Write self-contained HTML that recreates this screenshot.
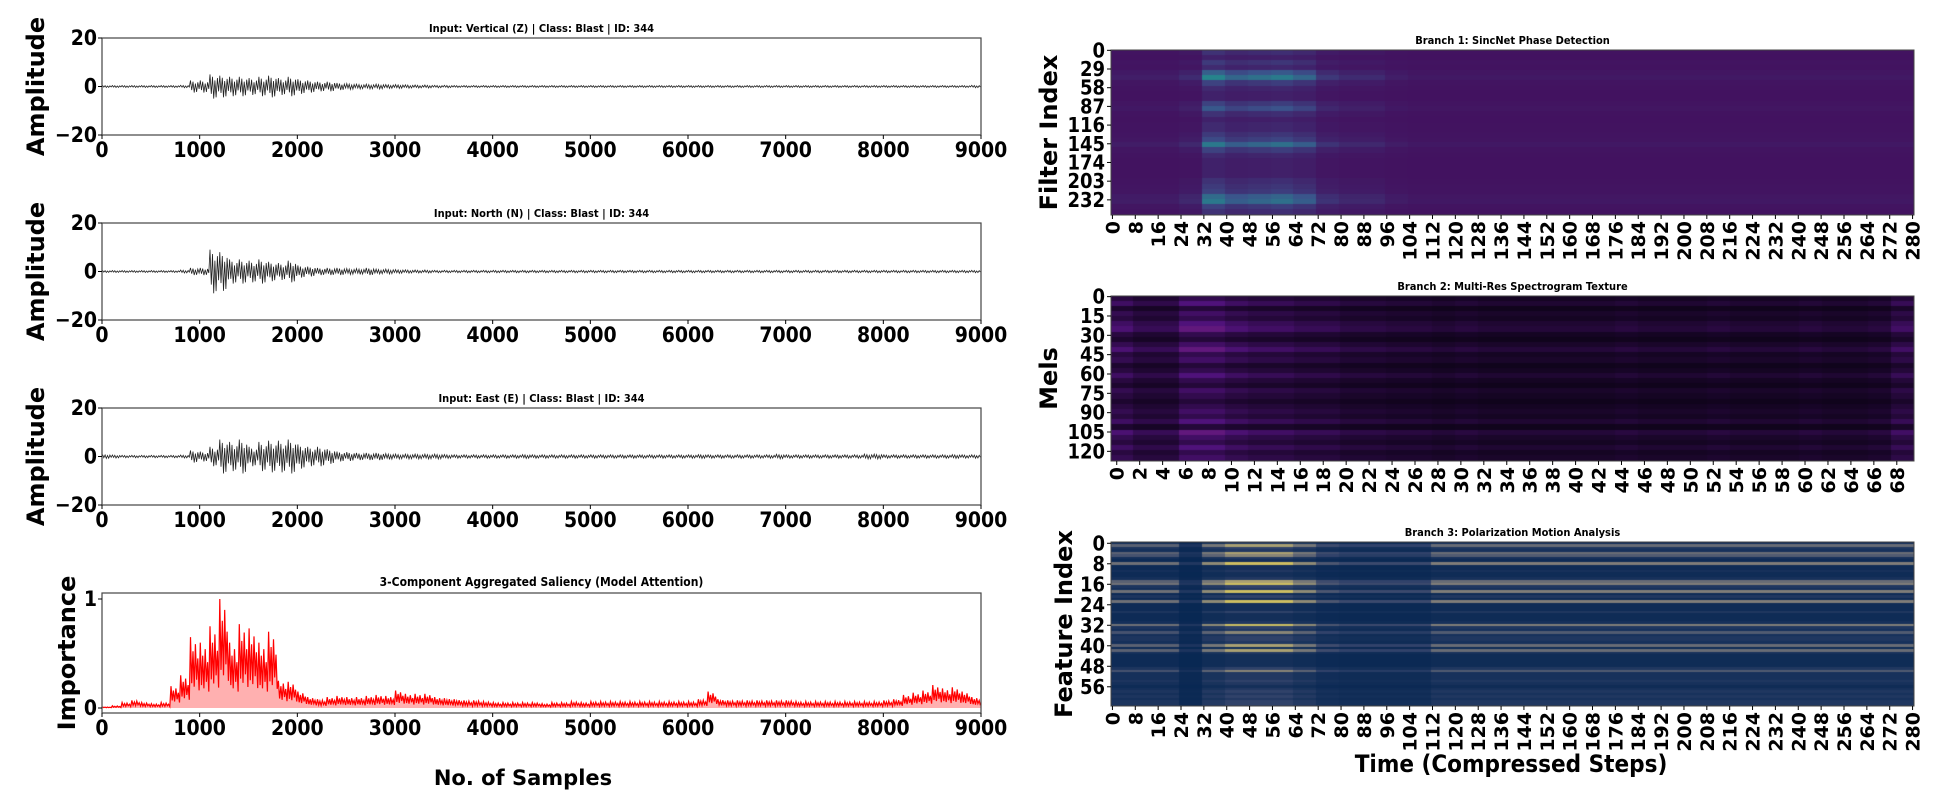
<!DOCTYPE html>
<html><head><meta charset="utf-8">
<style>
html,body{margin:0;padding:0;background:#fff;}
#wrap{position:relative;width:1960px;height:799px;overflow:hidden;}
canvas{position:absolute;}
svg{position:absolute;left:0;top:0;}
text{font-family:"DejaVu Sans","Liberation Sans",sans-serif;font-weight:bold;fill:#000;}
.c{font-family:"DejaVu Sans Condensed","DejaVu Sans","Liberation Sans",sans-serif;}
</style></head>
<body>
<div id="wrap">
<canvas id="h1" style="left:1111px;top:50px" width="803" height="165"></canvas>
<canvas id="h2" style="left:1111px;top:296px" width="803" height="165"></canvas>
<canvas id="h3" style="left:1111px;top:542px" width="803" height="164"></canvas>
<svg id="svg" width="1960" height="799"></svg>
</div>
<script>
// ---- waveform envelopes (peak amplitude per 100-sample bin) ----
const waveZ=[0.4,0.4,0.4,0.4,0.4,0.4,0.4,0.4,0.5,2.5,2.5,5,4.5,4,4,3.5,4,4.5,3.5,4,3,2.5,2,2,1.5,1.2,1,1,1,0.8,0.8,0.7,0.6,0.6,0.5,0.5,0.4,0.4,0.4,0.4,0.4,0.4,0.4,0.4,0.4,0.4,0.4,0.4,0.4,0.4,0.4,0.4,0.4,0.4,0.4,0.4,0.4,0.4,0.4,0.4,0.4,0.4,0.4,0.4,0.4,0.4,0.4,0.4,0.4,0.4,0.4,0.4,0.4,0.4,0.4,0.4,0.4,0.4,0.4,0.4,0.4,0.4,0.4,0.4,0.4,0.4,0.4,0.4,0.4,0.5];
const waveN=[0.4,0.4,0.4,0.4,0.4,0.4,0.4,0.4,0.6,1.5,1.5,9,8,5,5,4.5,5,4,3.5,4.5,2.5,2,1.5,1.5,1.5,1.2,1.2,1.5,1,1,0.8,0.7,0.6,0.6,0.5,0.5,0.5,0.5,0.5,0.5,0.5,0.5,0.5,0.5,0.5,0.5,0.5,0.5,0.5,0.5,0.5,0.5,0.5,0.5,0.5,0.5,0.5,0.5,0.5,0.5,0.5,0.5,0.5,0.5,0.5,0.5,0.5,0.5,0.5,0.5,0.5,0.5,0.5,0.5,0.5,0.5,0.5,0.5,0.5,0.5,0.5,0.5,0.5,0.5,0.5,0.5,0.5,0.5,0.5,0.5];
const waveE=[0.8,0.6,0.5,0.5,0.5,0.5,0.5,0.5,0.6,2.5,2,4,7,6,7,4,6,6.5,6.5,7,5,4,4,3,2,1.8,1.5,1.5,1.5,1.2,1,1,1,1,1,0.8,0.7,0.7,0.7,0.7,0.7,0.7,0.7,0.8,0.7,0.7,0.7,0.7,0.7,0.7,0.7,0.7,0.7,0.7,0.7,0.7,0.7,0.7,0.7,0.7,0.7,0.8,0.7,0.7,0.7,0.7,0.7,0.7,0.7,0.9,0.7,0.7,0.7,0.7,0.7,0.7,0.7,0.7,1,1,0.7,0.7,0.7,0.7,0.7,0.7,0.7,0.8,0.7,0.7];
// ---- saliency peaks per 100-sample bin ----
const salPeak=[0.01,0.02,0.05,0.07,0.05,0.04,0.05,0.2,0.3,0.65,0.6,0.75,1.0,0.6,0.77,0.73,0.6,0.7,0.25,0.24,0.15,0.1,0.08,0.1,0.11,0.1,0.1,0.11,0.12,0.11,0.16,0.13,0.13,0.13,0.1,0.09,0.08,0.07,0.07,0.06,0.05,0.05,0.05,0.05,0.05,0.04,0.05,0.05,0.06,0.05,0.06,0.06,0.06,0.06,0.06,0.06,0.06,0.06,0.06,0.06,0.06,0.08,0.15,0.08,0.07,0.07,0.07,0.07,0.07,0.07,0.07,0.06,0.06,0.06,0.06,0.06,0.06,0.06,0.06,0.06,0.07,0.08,0.12,0.14,0.16,0.21,0.18,0.19,0.15,0.1];
const xTicks=[0,1000,2000,3000,4000,5000,6000,7000,8000,9000];
const ampTicks=[20,0,-20];
const impTicks=[1,0];
// ---- heatmap profiles ----
const h1Col=[0.05,0.05,0.05,0.1,0.5,0.35,0.4,0.45,0.35,0.15,0.1,0.1,0.05,0.03,0.03,0.03,0.03,0.03,0.03,0.03,0.03,0.03,0.03,0.03,0.03,0.03,0.03,0.03,0.03,0.03,0.03,0.03,0.03,0.03,0.03,0.03];
const h1Row=[0.2,0.1,0.25,0.15,0.5,0.8,0.3,0.15,0.1,0.1,0.3,0.45,0.2,0.1,0.15,0.15,0.25,0.35,0.7,0.3,0.15,0.1,0.1,0.1,0.1,0.2,0.25,0.3,0.6,0.7,0.3,0.2];
const h2Col=[0.7,0.5,0.5,0.9,0.9,0.7,0.6,0.6,0.5,0.5,0.4,0.4,0.35,0.35,0.3,0.35,0.3,0.3,0.3,0.3,0.3,0.3,0.35,0.3,0.3,0.3,0.35,0.3,0.3,0.3,0.35,0.3,0.3,0.35,0.6];
const h2Row=[0.15,0.25,0.1,0.2,0.15,0.25,0.3,0.15,0.1,0.2,0.3,0.15,0.2,0.1,0.15,0.25,0.15,0.1,0.2,0.15,0.1,0.15,0.2,0.15,0.25,0.1,0.3,0.2,0.15,0.25,0.15,0.2];
const h3Col=[0.7,0.7,0.7,0.2,0.9,1.3,1.3,1.3,0.9,0.5,0.4,0.4,0.4,0.4,0.8,0.8,0.8,0.8,0.8,0.8,0.8,0.8,0.8,0.8,0.8,0.8,0.8,0.8,0.8,0.8,0.8,0.8,0.8,0.8,0.8,0.8];
const h3Row=[0.1,0.5,0.15,0.1,0.5,0.4,0.1,0.05,0.6,0.05,0.05,0.1,0.05,0.05,0.1,0.5,0.6,0.15,0.1,0.6,0.05,0.15,0.05,0.6,0.05,0.05,0.05,0.15,0.05,0.05,0.05,0.1,0.6,0.15,0.1,0.4,0.1,0.15,0.15,0.1,0.5,0.05,0.5,0.1,0.05,0.05,0.05,0.05,0.05,0.15,0.4,0.1,0.1,0.1,0.15,0.1,0.05,0.1,0.15,0.1,0.15,0.1,0.15,0.15];

const NS='http://www.w3.org/2000/svg';
const svg=document.getElementById('svg');
function mk(tag,attrs,parent){const e=document.createElementNS(NS,tag);for(const k in attrs)e.setAttribute(k,attrs[k]);(parent||svg).appendChild(e);return e;}
function txt(x,y,s,size,anchor,cls,rot){const t=mk('text',{x:x,y:y,'font-size':size,'text-anchor':anchor||'middle'});if(cls)t.setAttribute('class',cls);if(rot)t.setAttribute('transform','rotate('+rot+' '+x+' '+y+')');t.textContent=s;return t;}

const L=102,R=981;
const xs=v=>L+(v/9000)*(R-L);
const pat=[1,-0.6,0.8,-1,0.5,-0.9,0.7,-0.4];

function wavePanel(top,bot,data,title,name){
  const ys=v=>top+(20-v)/40*(bot-top);
  const g=mk('g',{});
  
  
  let d='';
  for(let i=0;i<data.length;i++){for(let k=0;k<pat.length;k++){const sx=i*100+(k+0.5)*100/pat.length;d+=(d?'L':'M')+xs(sx).toFixed(1)+','+ys(data[i]*pat[k]).toFixed(1);}}
  const p=mk('path',{d:d,fill:'none',stroke:'#222','stroke-width':0.8},g);
  
  const f=mk('rect',{x:L,y:top,width:R-L,height:bot-top,fill:'none',stroke:'#444','stroke-width':1.2},g);
  
  const t=txt((L+R)/2,top-6,title,11,'middle','c');
  
  xTicks.forEach(v=>{mk('line',{x1:xs(v),x2:xs(v),y1:bot,y2:bot+4,stroke:'#000'});const l=txt(xs(v),bot+22,String(v),21,'middle','c');});
  ampTicks.forEach(v=>{mk('line',{x1:L-4,x2:L,y1:ys(v),y2:ys(v),stroke:'#000'});const l=txt(L-5,ys(v)+7,v<0?'\u2212'+(-v):String(v),21,'end','c');});
  const yl=txt(44,(top+bot)/2,'Amplitude',24,'middle',null,-90);
  
}
wavePanel(38,135,waveZ,'Input: Vertical (Z) | Class: Blast | ID: 344','vertical-waveform-panel');
wavePanel(223,320,waveN,'Input: North (N) | Class: Blast | ID: 344','north-waveform-panel');
wavePanel(408,505,waveE,'Input: East (E) | Class: Blast | ID: 344','east-waveform-panel');

// saliency
(function(){
  const top=593,bot=713;
  const ys=v=>708-v*109;
  const sp=[1,0.35,0.8,0.3,0.9,0.4,0.7,0.25];
  let pts=[];
  for(let i=0;i<salPeak.length;i++){for(let k=0;k<sp.length;k++){const sx=i*100+(k+0.5)*100/sp.length;pts.push(xs(sx).toFixed(1)+','+ys(salPeak[i]*sp[k]).toFixed(1));}}
  const area=mk('path',{d:'M'+xs(0)+','+ys(0)+'L'+pts.join('L')+'L'+xs(9000)+','+ys(0)+'Z',fill:'#ffb0b0',stroke:'none'});
  
  const line=mk('path',{d:'M'+pts.join('L'),fill:'none',stroke:'#ff0000','stroke-width':1.2});
  
  const f=mk('rect',{x:L,y:top,width:R-L,height:bot-top,fill:'none',stroke:'#444','stroke-width':1.2});
  
  const t=txt((L+R)/2,top-7,'3-Component Aggregated Saliency (Model Attention)',12,'middle','c');
  
  xTicks.forEach(v=>{mk('line',{x1:xs(v),x2:xs(v),y1:bot,y2:bot+4,stroke:'#000'});const l=txt(xs(v),bot+22,String(v),21,'middle','c');});
  impTicks.forEach(v=>{mk('line',{x1:L-4,x2:L,y1:ys(v),y2:ys(v),stroke:'#000'});const l=txt(L-5,ys(v)+7,String(v),21,'end','c');});
  const yl=txt(75,653,'Importance',24,'middle',null,-90);
  
  const xl=txt(523,785,'No. of Samples',21,'middle');
  
})();

// colormaps
const CM={
 viridis:[[68,1,84],[59,82,139],[33,145,140],[94,201,98],[253,231,37]],
 magma:[[0,0,4],[81,18,124],[183,55,121],[252,137,97],[252,253,191]],
 cividis:[[0,34,78],[53,69,108],[124,123,120],[188,175,111],[254,232,56]]
};
function cmap(name,v){v=Math.max(0,Math.min(1,v));const s=CM[name];const p=v*(s.length-1);const i=Math.min(Math.floor(p),s.length-2);const f=p-i;const a=s[i],b=s[i+1];return 'rgb('+Math.round(a[0]+(b[0]-a[0])*f)+','+Math.round(a[1]+(b[1]-a[1])*f)+','+Math.round(a[2]+(b[2]-a[2])*f)+')';}

const HL=1111,HR=1914;
function heat(id,top,bot,nrows,ncols,rowP,rowG,colP,colG,base,name,title,yStep,xStep,ylabel,ylx){
  const cv=document.getElementById(id),ctx=cv.getContext('2d');
  const W=HR-HL,H=bot-top,cw=W/ncols,ch=H/nrows;
  for(let r=0;r<nrows;r++)for(let c=0;c<ncols;c++){
    const rp=rowP[Math.min(rowP.length-1,Math.floor(r/rowG))];
    const cp=colP[Math.min(colP.length-1,Math.floor(c/colG))];
    ctx.fillStyle=cmap(name,base+rp*cp);
    ctx.fillRect(Math.floor(c*cw),Math.floor(r*ch),Math.ceil(cw)+1,Math.ceil(ch)+1);
  }
  const f=mk('rect',{x:HL,y:top,width:W,height:H,fill:'none',stroke:'#444','stroke-width':1});
  
  const t=txt((HL+HR)/2,top-6,title,11,'middle','c');
  
  for(let r=0;r<nrows;r+=yStep){const y=top+(r+0.5)*ch;mk('line',{x1:HL-4,x2:HL,y1:y,y2:y,stroke:'#000'});const l=txt(HL-6,y+7,String(r),20,'end','c');}
  for(let c=0;c<ncols;c+=xStep){const x=HL+(c+0.5)*cw;mk('line',{x1:x,x2:x,y1:bot,y2:bot+4,stroke:'#000'});const l=txt(x+7,bot+6,String(c),19,'end',null,-90);}
  const yl=txt(ylx,(top+bot)/2,ylabel,24,'middle',null,-90);
  
}
heat('h1',50,215,256,281,h1Row,8,h1Col,8,0.05,'viridis','Branch 1: SincNet Phase Detection',29,8,'Filter Index',1057);
heat('h2',296,461,128,70,h2Row,4,h2Col,2,0.02,'magma','Branch 2: Multi-Res Spectrogram Texture',15,2,'Mels',1057);
heat('h3',542,706,64,281,h3Row,1,h3Col,8,0.03,'cividis','Branch 3: Polarization Motion Analysis',8,8,'Feature Index',1072);
const tx=txt(1511,772,'Time (Compressed Steps)',24,'middle','c');


</script>
</body></html>
